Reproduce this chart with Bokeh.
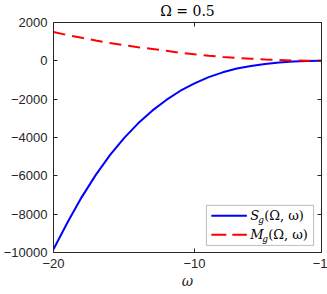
from bokeh.plotting import figure
from bokeh.models import (Range1d, LinearAxis, Label, BoxAnnotation, Arrow, FixedTicker,
                          CustomLabelingPolicy)
from bokeh.embed import file_html
from bokeh.resources import INLINE

# ---- data ----
omega = [-20, -19, -18, -17, -16, -15, -14, -13, -12, -11,
         -10, -9, -8, -7, -6, -5, -4, -3, -2, -1]
S_g = [-9830, -8420, -7110, -5950, -4920, -4030, -3260, -2600, -2040, -1560,
       -1180, -850, -600, -400, -270, -160, -85, -35, -10, 0]
M_g = [1500, 1340, 1200, 1060, 935, 815, 705, 620, 525, 420,
       340, 270, 205, 155, 110, 72, 42, 20, 6, 0]
x_ticks = [-20, -10, -1]
y_ticks = [-10000, -8000, -6000, -4000, -2000, 0, 2000]
title_text = "Ω = 0.5"
x_label = "ω"
legend_names = ["S", "M"]
legend_sub = "g"
legend_args = "(Ω, ω)"

AX = "#262626"
SERIF = "DejaVu Serif"

p = figure(frame_width=268, frame_height=230, output_backend="svg", toolbar_location=None,
           x_range=Range1d(-20, -1), y_range=Range1d(-10000, 2000),
           min_border_left=0, min_border_right=0, min_border_top=0, min_border_bottom=0,
           x_axis_location=None, y_axis_location=None)
p.grid.visible = False
p.outline_line_color = None
p.background_fill_color = "white"

p.title.text = title_text
p.title.text_font = SERIF
p.title.text_font_style = "normal"
p.title.text_font_size = "14px"
p.title.text_color = "black"
p.title.align = "center"
p.title.standoff = 0
p.title.offset = 0

no_labels = CustomLabelingPolicy(code="return new Set()")


def make_axis(ticks, labels=True, label=None):
    ax = LinearAxis(ticker=FixedTicker(ticks=ticks))
    ax.axis_line_color = AX
    ax.major_tick_line_color = AX
    ax.major_tick_in = 4
    ax.major_tick_out = 0
    ax.minor_tick_line_color = None
    if labels:
        ax.major_label_text_font = "Liberation Sans"
        ax.major_label_text_font_size = "13px"
        ax.major_label_text_color = AX
        ax.major_label_standoff = 6
    else:
        ax.major_label_text_font_size = "1px"
        ax.major_label_standoff = 0
        ax.major_label_policy = no_labels
    if label:
        ax.axis_label = label
        ax.axis_label_text_font = SERIF
        ax.axis_label_text_font_style = "italic"
        ax.axis_label_text_font_size = "14px"
        ax.axis_label_text_color = AX
        ax.axis_label_standoff = 2
    return ax


p.add_layout(make_axis(x_ticks, True, x_label), "below")
p.add_layout(make_axis(y_ticks, True), "left")
p.add_layout(make_axis(x_ticks, False), "above")
p.add_layout(make_axis(y_ticks, False), "right")

p.line(omega, S_g, line_color="#0000ff", line_width=2)
p.line(omega, M_g, line_color="#ff0000", line_width=2, line_dash="12 7")

# ---- legend (box, samples, labels) ----
p.add_layout(BoxAnnotation(left=-9.16, right=-1.56, top=-7540, bottom=-9630,
                           fill_color="white", fill_alpha=1.0,
                           line_color=AX, line_width=1))
p.add_layout(Arrow(end=None, start=None, x_start=-8.81, y_start=-8087,
                   x_end=-6.29, y_end=-8087, line_color="#0000ff", line_width=2))
p.add_layout(Arrow(end=None, start=None, x_start=-8.81, y_start=-9077,
                   x_end=-6.29, y_end=-9077, line_color="#ff0000", line_width=2,
                   line_dash="15 6"))

for name, yy, w in [(legend_names[0], -8087, 8), (legend_names[1], -9077, 12)]:
    p.add_layout(Label(x=-6.06, y=yy, text=name, text_font=SERIF, text_font_style="italic",
                       text_font_size="13px", text_baseline="middle", text_color="black"))
    p.add_layout(Label(x=-6.06, y=yy, x_offset=w, y_offset=-4, text=legend_sub,
                       text_font=SERIF, text_font_style="italic",
                       text_font_size="9px", text_baseline="middle", text_color="black"))
    p.add_layout(Label(x=-6.06, y=yy, x_offset=w + 6, text=legend_args, text_font=SERIF,
                       text_font_size="13px", text_baseline="middle", text_color="black"))

open("out.html", "w").write(file_html(p, INLINE))
